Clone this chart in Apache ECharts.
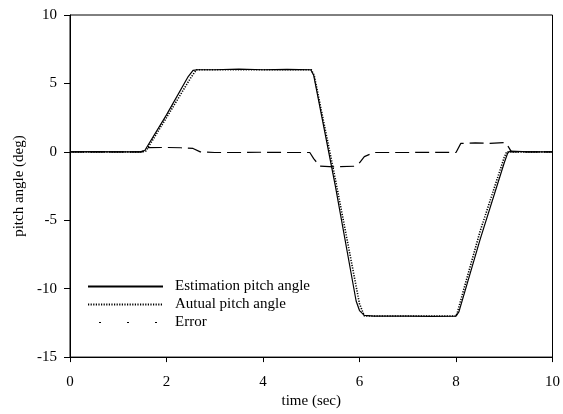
<!DOCTYPE html>
<html>
<head>
<meta charset="utf-8">
<script src="https://cdn.jsdelivr.net/npm/echarts@6/dist/echarts.min.js"></script>
<style>
html,body{margin:0;padding:0;background:#fff;}
#chart{width:563px;height:414px;}
</style>
</head>
<body>
<div id="chart"></div>
<script>
// Tick settings
var xTicks = [0, 2, 4, 6, 8, 10];
var yTicks = [-15, -10, -5, 0, 5, 10];

// Estimation pitch angle (time sec, deg)
var estT = [0, 0.5, 1.0, 1.45, 1.55, 2.0, 2.45, 2.55, 2.65, 3.0, 3.5, 4.0, 4.5, 4.99, 5.05, 5.5, 5.93, 6.0, 6.1, 6.3, 7.0, 7.5, 8.0, 8.06, 8.5, 9.0, 9.07, 9.12, 9.5, 10.0];
var estV = [0, 0.02, 0, 0, 0.1, 2.7, 5.5, 5.95, 6.0, 6.0, 6.04, 6.0, 6.02, 6.0, 5.6, -2.5, -10.9, -11.6, -11.95, -12.0, -12.0, -12.02, -12.0, -11.7, -6.4, -0.8, -0.1, 0.05, 0, 0];

// Autual pitch angle
var actT = [0, 0.5, 1.0, 1.5, 1.57, 2.0, 2.5, 2.62, 3.0, 3.5, 4.0, 4.5, 5.0, 5.06, 5.5, 6.0, 6.1, 7.0, 8.0, 8.03, 8.5, 9.0, 9.05, 9.5, 10.0];
var actV = [0, 0, 0, 0, 0.05, 2.5, 5.4, 6.0, 6.0, 6.0, 6.0, 6.0, 6.0, 5.6, -2.0, -11.1, -12.0, -12.0, -12.0, -11.7, -5.8, -0.4, 0, 0, 0];

// Error
var errT = [0, 0.5, 1.0, 1.5, 1.56, 2.0, 2.3, 2.55, 2.7, 3.0, 3.5, 4.0, 4.5, 4.97, 5.05, 5.18, 5.5, 5.9, 6.0, 6.1, 6.3, 7.0, 7.5, 8.0, 8.1, 8.4, 8.7, 9.02, 9.08, 9.15, 9.5, 10.0];
var errV = [0, 0, 0, 0, 0.3, 0.32, 0.3, 0.25, 0.0, -0.05, -0.05, -0.03, -0.05, -0.05, -0.5, -1.05, -1.1, -1.05, -0.8, -0.35, -0.05, -0.05, -0.03, -0.05, 0.62, 0.65, 0.62, 0.68, 0.4, 0, 0, 0];

var names = ['Estimation pitch angle', 'Autual pitch angle', 'Error'];

function pairs(t, v) { return t.map(function (x, i) { return [x, v[i]]; }); }

var font = '"Liberation Serif", "Times New Roman", serif';
var chart = echarts.init(document.getElementById('chart'), null, {renderer: 'canvas'});
chart.setOption({
  animation: false,
  backgroundColor: '#fff',
  textStyle: {fontFamily: font, color: '#000'},
  grid: {left: 70, right: 10, top: 15, bottom: 50, show: true, borderColor: '#000', borderWidth: 1, backgroundColor: 'transparent'},
  xAxis: {
    type: 'value', min: xTicks[0], max: xTicks[xTicks.length - 1], interval: 2,
    name: 'time (sec)', nameLocation: 'middle', nameGap: 35,
    nameTextStyle: {fontFamily: font, fontSize: 15, color: '#000'},
    axisLine: {show: true, onZero: false, lineStyle: {color: '#000', width: 1}},
    axisTick: {show: true, inside: false, length: 5, lineStyle: {color: '#000'}},
    axisLabel: {fontFamily: font, fontSize: 15, color: '#000', margin: 17},
    splitLine: {show: false}
  },
  yAxis: {
    type: 'value', min: yTicks[0], max: yTicks[yTicks.length - 1], interval: 5,
    name: 'pitch angle (deg)', nameLocation: 'middle', nameGap: 35,
    nameTextStyle: {fontFamily: font, fontSize: 15, color: '#000'},
    axisLine: {show: true, onZero: false, lineStyle: {color: '#000', width: 1}},
    axisTick: {show: true, inside: false, length: 6, lineStyle: {color: '#000'}},
    axisLabel: {fontFamily: font, fontSize: 15, color: '#000', margin: 13},
    splitLine: {show: false}
  },
  legend: {
    orient: 'vertical', left: 82, top: 274, itemWidth: 75, itemHeight: 12, itemGap: 3,
    itemStyle: {opacity: 0, borderWidth: 0},
    textStyle: {fontFamily: font, fontSize: 15, color: '#000', padding: [0, 0, 0, 7]},
    data: [
      {name: names[0]},
      {name: names[1]},
      {name: names[2], lineStyle: {type: [2, 26], dashOffset: -11, width: 1, color: '#000'}}
    ]
  },
  series: [
    {name: names[0], type: 'line', data: pairs(estT, estV), symbol: 'none', showSymbol: false,
      lineStyle: {color: '#000', width: 1.2, type: 'solid'}, itemStyle: {color: '#000'}, z: 3},
    {name: names[1], type: 'line', data: pairs(actT, actV), symbol: 'none', showSymbol: false,
      lineStyle: {color: '#000', width: 1.6, type: [1.2, 1.4]}, itemStyle: {color: '#000'}, z: 2},
    {name: names[2], type: 'line', data: pairs(errT, errV), symbol: 'none', showSymbol: false,
      lineStyle: {color: '#000', width: 1.2, type: [14, 6]}, itemStyle: {color: '#000'}, z: 1}
  ]
});
</script>
</body>
</html>
